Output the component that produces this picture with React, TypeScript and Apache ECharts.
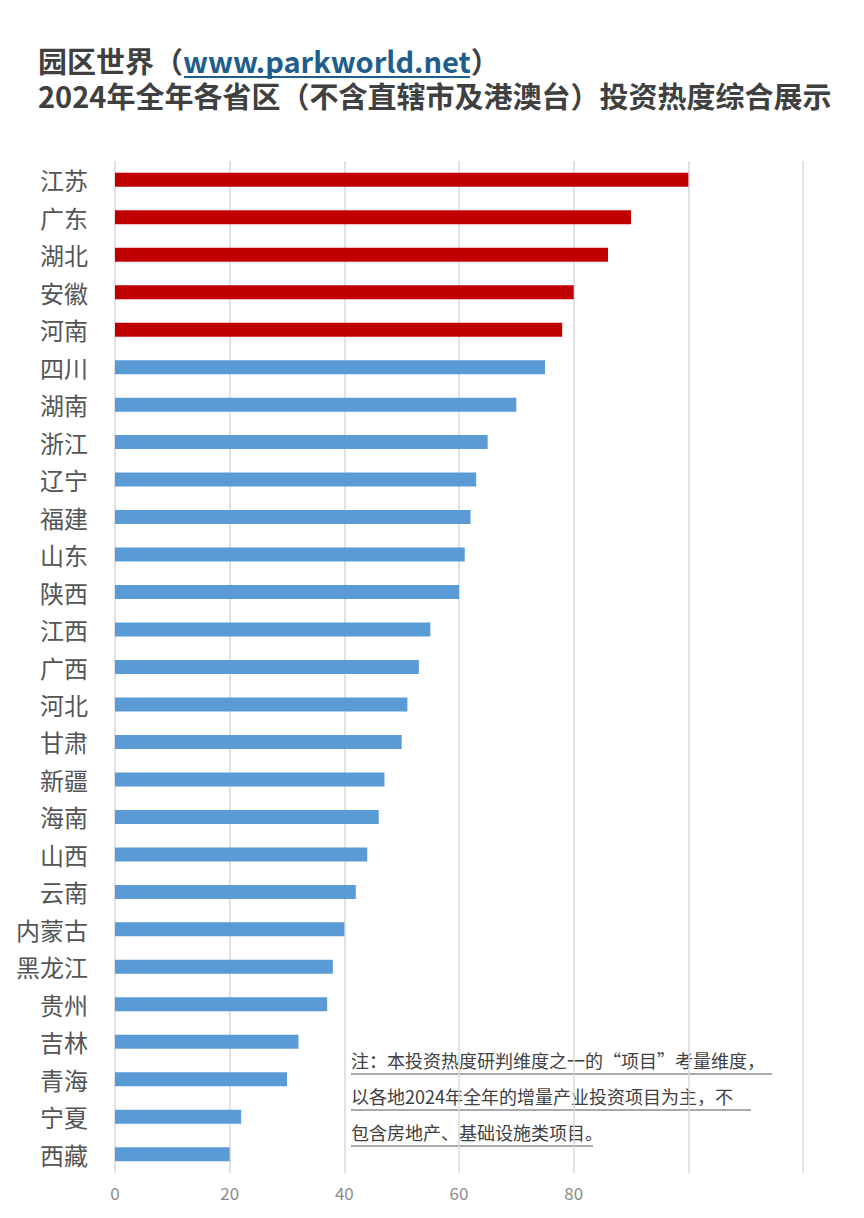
import React, { useEffect, useRef } from "react";
import * as echarts from "echarts";

const provinces = ["江苏","广东","湖北","安徽","河南","四川","湖南","浙江","辽宁","福建","山东","陕西","江西","广西","河北","甘肃","新疆","海南","山西","云南","内蒙古","黑龙江","贵州","吉林","青海","宁夏","西藏"];
const scores = [100,90,86,80,78,75,70,65,63,62,61,60,55,53,51,50,47,46,44,42,40,38,37,32,30,22,20];
const highlightCount = 5;
const xTicks = { min: 0, max: 120, interval: 20, lastShown: 80 };
const titleLine1a = "园区世界（";
const titleUrl = "www.parkworld.net";
const titleLine1b = "）";
const titleLine2 = "2024年全年各省区（不含直辖市及港澳台）投资热度综合展示";
const noteLines = [
  "注：本投资热度研判维度之一的“项目”考量维度，",
  "以各地2024年全年的增量产业投资项目为主，不",
  "包含房地产、基础设施类项目。",
];

const FONT = "'Noto Sans CJK SC', 'Noto Sans', sans-serif";

export default function App() {
  const ref = useRef<HTMLDivElement>(null);
  useEffect(() => {
    document.body.style.margin = "0";
    const chart = echarts.init(ref.current!, null, { renderer: "svg" });
    const noteUnderline = [421, 400, 242];
    const titleRich = { fontSize: 29, lineHeight: 35, fontWeight: "bold", fill: "#404040", fontFamily: FONT };
    chart.setOption({
      animation: false,
      backgroundColor: "#ffffff",
      grid: { left: 115, right: 61, top: 161, height: 1012, containLabel: false },
      xAxis: {
        type: "value",
        min: xTicks.min,
        max: xTicks.max,
        interval: xTicks.interval,
        axisLine: { show: false },
        axisTick: { show: false },
        splitLine: { show: true, lineStyle: { color: "#d9d9d9", width: 1.5 } },
        axisLabel: {
          color: "#8c8c8c",
          fontSize: 17,
          fontFamily: FONT,
          margin: 11,
          formatter: (v: number) => (v > xTicks.lastShown ? "" : String(v)),
        },
      },
      yAxis: {
        type: "category",
        inverse: true,
        data: provinces,
        axisLine: { show: false },
        axisTick: { show: false },
        axisLabel: { color: "#555555", fontSize: 24, fontFamily: FONT, margin: 27 },
      },
      series: [
        {
          type: "bar",
          barWidth: 14,
          data: scores.map((v, i) => ({
            value: v,
            itemStyle: { color: i < highlightCount ? "#C00000" : "#5B9BD5" },
          })),
        },
      ],
      graphic: [
        {
          type: "text",
          left: 38,
          top: 45,
          style: {
            text: `{a|${titleLine1a}}{b|${titleUrl}}{a|${titleLine1b}}\n{a|${titleLine2}}`,
            rich: {
              a: titleRich,
              b: { ...titleRich, fill: "#1f5e8c" },
            },
          },
        },
        {
          type: "line",
          shape: { x1: 184, y1: 77, x2: 470, y2: 77 },
          style: { stroke: "#1f5e8c", lineWidth: 2 },
        },
        {
          type: "rect",
          shape: { x: 336, y: 1042, width: 456, height: 110 },
          style: { fill: "#ffffff" },
        },
        ...noteLines.map((t, i) => ({
          type: "text",
          left: 351,
          top: 1051 + i * 36,
          style: { text: t, fontSize: 18, fill: "#404040", fontFamily: FONT },
        })),
        ...noteLines.map((t, i) => ({
          type: "line",
          shape: { x1: 351, y1: 1074 + i * 36, x2: 351 + noteUnderline[i], y2: 1074 + i * 36 },
          style: { stroke: "#555555", lineWidth: 1 },
        })),
      ],
    });
    return () => chart.dispose();
  }, []);
  return <div ref={ref} style={{ width: 864, height: 1218 }} />;
}
